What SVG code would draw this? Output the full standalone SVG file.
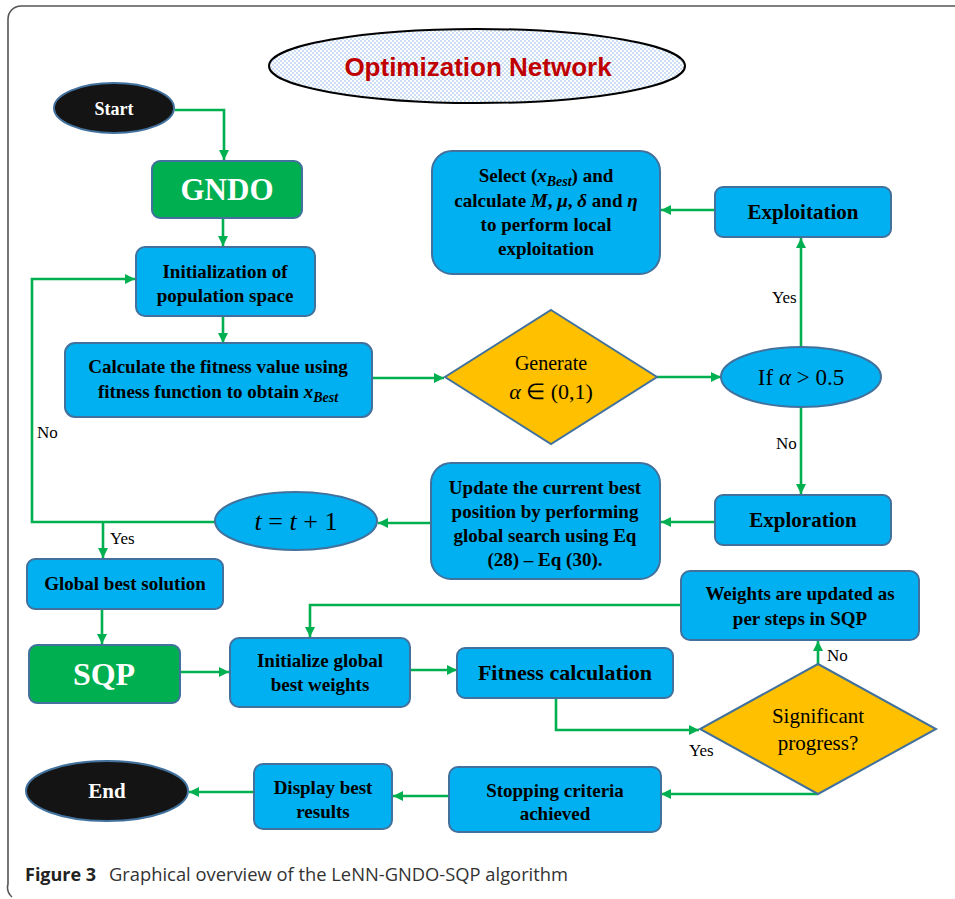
<svg xmlns="http://www.w3.org/2000/svg" width="955" height="899" viewBox="0 0 955 899">
<defs>
<pattern id="dots" width="4" height="4" patternUnits="userSpaceOnUse">
<rect width="4" height="4" fill="#ffffff"/>
<circle cx="1" cy="1" r="0.8" fill="#8db6e6"/>
<circle cx="3" cy="3" r="0.8" fill="#8db6e6"/>
</pattern>
<marker id="arr" markerUnits="userSpaceOnUse" markerWidth="11" markerHeight="11" refX="10" refY="5" orient="auto">
<path d="M0,0 L10,5 L0,10 z" fill="#00b050"/>
</marker>
<style>
.box{fill:#00b0f0;stroke:#41719c;stroke-width:2}
.gbox{fill:#00b050;stroke:#41719c;stroke-width:2}
.dia{fill:#ffc000;stroke:#41719c;stroke-width:2}
.term{fill:#141414;stroke:#41719c;stroke-width:2}
.c{fill:none;stroke:#00b050;stroke-width:2.6;marker-end:url(#arr)}
.t{font-family:"Liberation Serif","Times New Roman",serif;font-weight:bold;font-size:19px;fill:#000;text-anchor:middle}
.r{font-family:"Liberation Serif","Times New Roman",serif;font-size:21px;fill:#000;text-anchor:middle}
.lbl{font-family:"Liberation Serif","Times New Roman",serif;font-size:17px;fill:#000}
.w{fill:#fff}
.m{font-style:italic}
</style>
</defs>
<rect width="955" height="899" fill="#ffffff"/>
<path d="M955,6 H21 A13,13 0 0 0 8,19 V884 A13,13 0 0 0 12,897" fill="none" stroke="#555" stroke-width="1.6"/>

<g id="title">
<ellipse cx="477" cy="66" rx="208" ry="37" fill="url(#dots)" stroke="#000" stroke-width="2"/>
<text x="478" y="76" style="font-family:'Liberation Sans',Arial,sans-serif;font-weight:bold;font-size:26px;fill:#c00000;text-anchor:middle">Optimization Network</text>
</g>

<g id="connectors">
<path class="c" d="M175,110 H224 V160"/>
<path class="c" d="M223,218 V246"/>
<path class="c" d="M223,316 V343"/>
<path class="c" d="M372,378 H444"/>
<path class="c" d="M657,377 H721"/>
<path class="c" d="M801,348 V238"/>
<path class="c" d="M715,210 H661"/>
<path class="c" d="M801,407 V494"/>
<path class="c" d="M715,522 H661"/>
<path class="c" d="M431,523 H378"/>
<path class="c" d="M215,522 H32 V279 H135"/>
<path class="c" d="M103,522 V558"/>
<path class="c" d="M102,609 V644"/>
<path class="c" d="M180,672 H229"/>
<path class="c" d="M410,670 H457"/>
<path class="c" d="M556,698 V730 H699"/>
<path class="c" d="M818,664 V641"/>
<path class="c" d="M681,605 H310 V637"/>
<path class="c" d="M818,794 H661"/>
<path class="c" d="M449,796 H393"/>
<path class="c" d="M254,792 H189"/>
<text class="lbl" x="772" y="303">Yes</text>
<text class="lbl" x="776" y="449">No</text>
<text class="lbl" x="37" y="438">No</text>
<text class="lbl" x="110" y="544">Yes</text>
<text class="lbl" x="827" y="661">No</text>
<text class="lbl" x="689" y="756">Yes</text>
</g>

<g id="start">
<ellipse class="term" cx="114" cy="108" rx="60" ry="25"/>
<text class="t w" x="114" y="115" style="font-size:18px">Start</text>
</g>

<g id="gndo">
<rect class="gbox" x="152" y="161" width="150" height="57" rx="8"/>
<text class="t w" x="227" y="200" style="font-size:31px">GNDO</text>
</g>

<g id="init">
<rect class="box" x="136" y="247" width="179" height="69" rx="9"/>
<text class="t" x="225" y="278">Initialization of</text>
<text class="t" x="225" y="302">population space</text>
</g>

<g id="calc">
<rect class="box" x="65" y="343" width="307" height="74" rx="10"/>
<text class="t" x="218" y="373">Calculate the fitness value using</text>
<text class="t" x="218" y="398">fitness function to obtain <tspan class="m">x</tspan><tspan class="m" font-size="14" dy="4">Best</tspan></text>
</g>

<g id="generate">
<polygon class="dia" points="551,310 657,377 551,444 445,377"/>
<text class="r" x="551" y="370" style="font-size:20px">Generate</text>
<text class="r" x="551" y="399" style="font-size:22px"><tspan class="m">α</tspan> ∈ (0,1)</text>
</g>

<g id="ifalpha">
<ellipse class="box" cx="801" cy="377" rx="80" ry="30"/>
<text class="r" x="801" y="385" style="font-size:23px">If <tspan class="m">α</tspan> &gt; 0.5</text>
</g>

<g id="exploitation">
<rect class="box" x="715" y="187" width="176" height="50" rx="8"/>
<text class="t" x="803" y="219" style="font-size:21px">Exploitation</text>
</g>

<g id="select">
<rect class="box" x="432" y="151" width="228" height="123" rx="20"/>
<text class="t" x="546" y="182">Select (<tspan class="m">x</tspan><tspan class="m" font-size="14" dy="4">Best</tspan><tspan dy="-4">) and</tspan></text>
<text class="t" x="546" y="207">calculate <tspan class="m">M</tspan>, <tspan class="m">μ</tspan>, <tspan class="m">δ</tspan> and <tspan class="m">η</tspan></text>
<text class="t" x="546" y="231">to perform local</text>
<text class="t" x="546" y="255">exploitation</text>
</g>

<g id="exploration">
<rect class="box" x="715" y="495" width="176" height="50" rx="8"/>
<text class="t" x="803" y="527" style="font-size:21px">Exploration</text>
</g>

<g id="update">
<rect class="box" x="431" y="463" width="229" height="116" rx="20"/>
<text class="t" x="545" y="494">Update the current best</text>
<text class="t" x="545" y="518">position by performing</text>
<text class="t" x="545" y="542">global search using Eq</text>
<text class="t" x="545" y="566">(28) – Eq (30).</text>
</g>

<g id="tinc">
<ellipse class="box" cx="296" cy="521" rx="81" ry="29"/>
<text class="r" x="296" y="530" style="font-size:26px"><tspan class="m">t</tspan> = <tspan class="m">t</tspan> + 1</text>
</g>

<g id="global">
<rect class="box" x="27" y="559" width="196" height="50" rx="8"/>
<text class="t" x="125" y="590">Global best solution</text>
</g>

<g id="sqp">
<rect class="gbox" x="29" y="645" width="151" height="58" rx="8"/>
<text class="t w" x="104" y="685" style="font-size:32px">SQP</text>
</g>

<g id="initglobal">
<rect class="box" x="230" y="638" width="180" height="69" rx="9"/>
<text class="t" x="320" y="667">Initialize global</text>
<text class="t" x="320" y="691">best weights</text>
</g>

<g id="fitness">
<rect class="box" x="457" y="648" width="216" height="50" rx="8"/>
<text class="t" x="565" y="680" style="font-size:22px">Fitness calculation</text>
</g>

<g id="weights">
<rect class="box" x="681" y="571" width="238" height="69" rx="9"/>
<text class="t" x="800" y="600">Weights are updated as</text>
<text class="t" x="800" y="625">per steps in SQP</text>
</g>

<g id="significant">
<polygon class="dia" points="818,664 936,729 818,794 700,729"/>
<text class="r" x="818" y="723">Significant</text>
<text class="r" x="818" y="750">progress?</text>
</g>

<g id="stopping">
<rect class="box" x="449" y="767" width="212" height="65" rx="9"/>
<text class="t" x="555" y="797">Stopping criteria</text>
<text class="t" x="555" y="820">achieved</text>
</g>

<g id="display">
<rect class="box" x="254" y="764" width="138" height="65" rx="9"/>
<text class="t" x="323" y="794">Display best</text>
<text class="t" x="323" y="818">results</text>
</g>

<g id="end">
<ellipse class="term" cx="107" cy="791" rx="81" ry="30"/>
<text class="t w" x="107" y="798" style="font-size:21px">End</text>
</g>

<g id="caption">
<text x="25" y="881" style="font-family:'Open Sans','Liberation Sans',sans-serif;font-size:18px;fill:#222"><tspan font-weight="bold">Figure 3</tspan><tspan x="109" fill="#333" textLength="459" lengthAdjust="spacingAndGlyphs">Graphical overview of the LeNN-GNDO-SQP algorithm</tspan></text>
</g>
</svg>
